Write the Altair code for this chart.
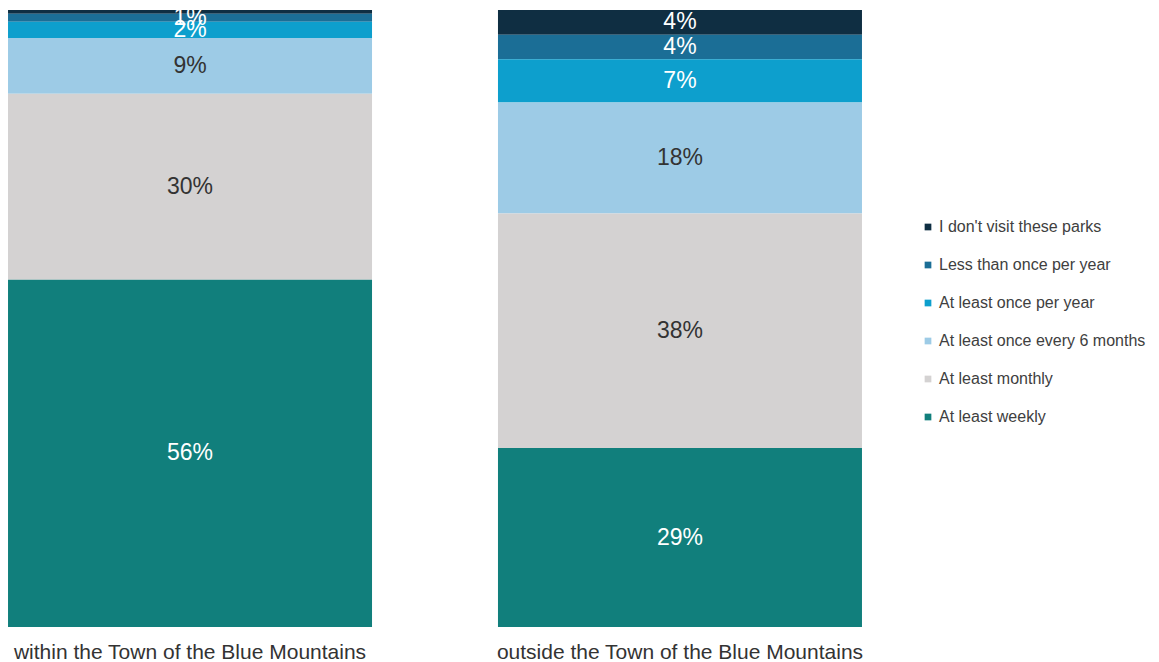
import altair as alt
import pandas as pd

locations = ["within the Town of the Blue Mountains", "outside the Town of the Blue Mountains"]
categories = [
    "I don't visit these parks",
    "Less than once per year",
    "At least once per year",
    "At least once every 6 months",
    "At least monthly",
    "At least weekly",
]
colors = ["#0f2e42", "#1b6e96", "#0d9fcd", "#9dcbe6", "#d4d2d2", "#117f7c"]
text_colors = ["#ffffff", "#ffffff", "#ffffff", "#333333", "#333333", "#ffffff"]

within_values = [0.6, 1.3, 2.6, 9, 30, 56]
within_labels = ["", "1%", "2%", "9%", "30%", "56%"]
outside_values = [4, 4, 7, 18, 38, 29]
outside_labels = ["4%", "4%", "7%", "18%", "38%", "29%"]

rows = []
for loc, vals, labs in [(locations[0], within_values, within_labels),
                        (locations[1], outside_values, outside_labels)]:
    for i, (c, v, l) in enumerate(zip(categories, vals, labs)):
        rows.append({"location": loc, "category": c, "value": v, "label": l,
                     "order": len(categories) - i, "tcolor": text_colors[i]})
df = pd.DataFrame(rows)

base = alt.Chart(df).transform_stack(
    stack="value", groupby=["location"], sort=[alt.SortField("order", order="ascending")],
    as_=["y0", "y1"], offset="normalize"
).transform_calculate(mid="(datum.y0 + datum.y1) / 2")

xenc = alt.X("location:N", sort=locations, title=None,
             scale=alt.Scale(paddingInner=0.257, paddingOuter=0),
             axis=alt.Axis(labelAngle=0, labelFontSize=21, labelColor="#333333",
                           labelFont="Liberation Sans", domain=False, ticks=False,
                           labelPadding=14, labelLimit=500))

bars = base.mark_bar(size=364).encode(
    x=xenc,
    y=alt.Y("y0:Q", scale=alt.Scale(domain=[0, 1]), axis=None),
    y2="y1:Q",
    color=alt.Color("category:N", scale=alt.Scale(domain=categories, range=colors),
                    legend=alt.Legend(title=None, orient="none", legendX=912, legendY=209,
                                      symbolType="square", symbolSize=45, labelFontSize=16,
                                      labelFont="Liberation Sans", labelColor="#404040",
                                      rowPadding=22, symbolStrokeWidth=0, labelOffset=3,
                                      labelLimit=400)),
)

texts = base.mark_text(fontSize=23, font="Liberation Sans", baseline="middle").encode(
    x=alt.X("location:N", sort=locations),
    y=alt.Y("mid:Q"),
    text="label:N",
    color=alt.Color("tcolor:N", scale=None),
)

chart = alt.layer(bars, texts).properties(
    width=854, height=617,
    padding={"left": 0, "top": 2, "right": 288, "bottom": 35},
    autosize=alt.AutoSizeParams(type="none"),
).configure(background="white").configure_view(stroke=None)

chart.save("out.html", embed_options={"renderer": "svg", "actions": False})
